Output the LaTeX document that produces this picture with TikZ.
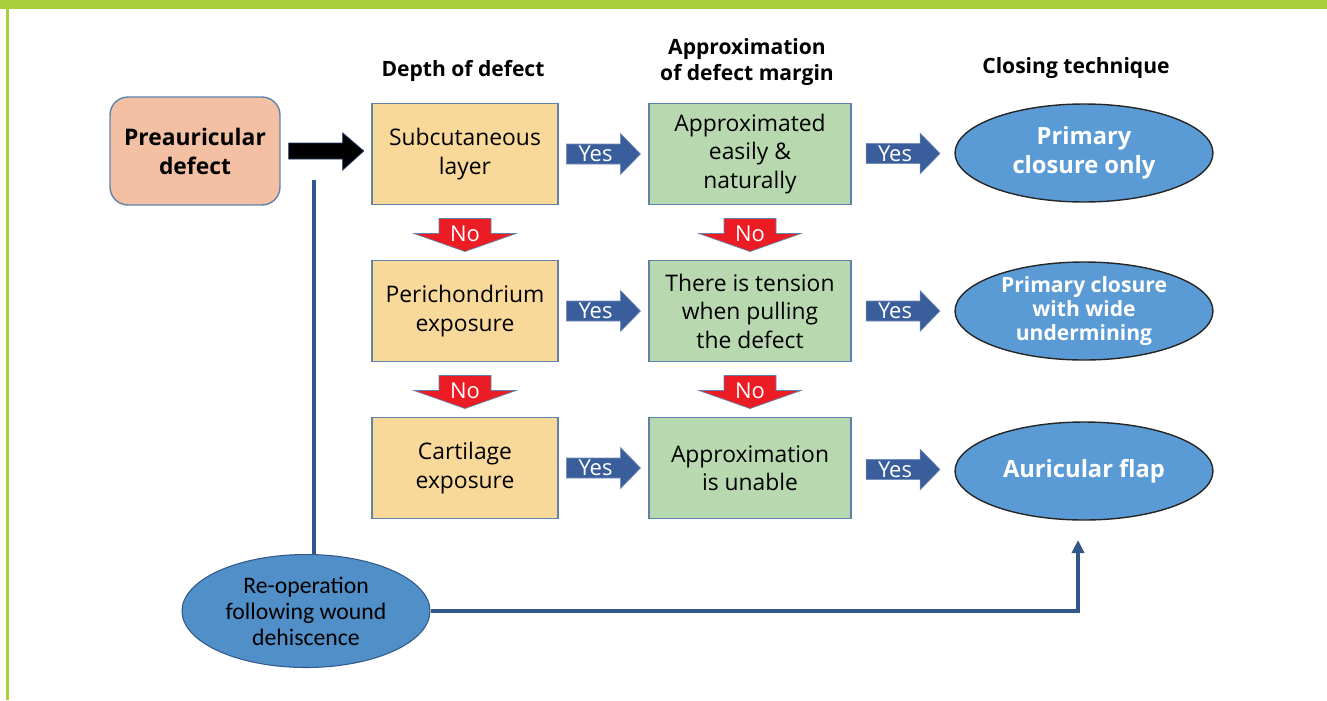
\documentclass[tikz,border=0pt]{standalone}
\usepackage{fontspec}
\setmainfont{Open Sans}
\newfontfamily\reopfont{Carlito}
\usepackage{tikz}
\usetikzlibrary{arrows.meta,calc,positioning,shapes.geometric}
\definecolor{hdrgreen}{RGB}{168,207,60}
\definecolor{depthfill}{RGB}{249,217,153}
\definecolor{marginfill}{RGB}{184,216,176}
\definecolor{defectfill}{RGB}{243,192,164}
\definecolor{boxline}{RGB}{95,130,170}
\definecolor{closefill}{RGB}{91,155,213}
\definecolor{reopfill}{RGB}{80,143,200}
\definecolor{yesblue}{RGB}{58,94,156}
\definecolor{nored}{RGB}{236,28,36}
\definecolor{reopline}{RGB}{50,88,138}

\begin{document}
\begin{tikzpicture}[x=0.02cm,y=-0.02cm,>={Triangle[length=0.26cm,width=0.24cm]},
  depth/.style={draw=boxline,line width=0.8pt,fill=depthfill,minimum width=3.72cm,minimum height=2.02cm,align=center,font=\fontsize{13}{16.2}\selectfont},
  margin/.style={depth,fill=marginfill,minimum width=4.04cm},
  closing/.style={ellipse,draw=black!85,line width=0.8pt,fill=closefill,text=white,minimum width=5.16cm,minimum height=1.96cm,inner sep=0pt,align=center,font=\bfseries\fontsize{13.5}{16.5}\selectfont},
  colhead/.style={align=center,font=\bfseries\fontsize{12}{14.5}\selectfont}]
  \useasboundingbox (0,0) rectangle (1327,700);
  % frame
  \fill[hdrgreen] (0,0) rectangle (1327,9);
  \fill[hdrgreen] (6,0) rectangle (9,700);
  % column heads
  \node[colhead] (hdepth) at (463,71) {Depth of defect};
  \node[colhead] (hmargin) at (747,62) {Approximation\\of defect margin};
  \node[colhead] (hclose) at (1076,68) {Closing technique};
  % boxes
  \node[draw=boxline,line width=0.8pt,fill=defectfill,rounded corners=0.36cm,minimum width=3.4cm,minimum height=2.16cm,align=center,font=\bfseries\fontsize{13}{16.5}\selectfont] (defect) at (195,151) {Preauricular\\defect};
  \node[depth] (d1) at (465,154) {Subcutaneous\\layer};
  \node[depth] (d2) at (465,311) {Perichondrium\\exposure};
  \node[depth] (d3) at (465,468) {Cartilage\\exposure};
  \node[margin] (m1) at (750,154) {Approximated\\easily \&\\naturally};
  \node[margin] (m2) at (750,311) {There is tension\\when pulling\\the defect};
  \node[margin] (m3) at (750,468) {Approximation\\is unable};
  \node[closing] (c1) at (1084,153) {Primary\\closure only};
  \node[closing,font=\bfseries\fontsize{12}{13.5}\selectfont] (c2) at (1084,311) {Primary closure\\with wide\\undermining};
  \node[closing] (c3) at (1084,471) {Auricular flap};
  \node[ellipse,draw=reopline,line width=0.6pt,fill=reopfill,minimum width=4.96cm,minimum height=2.26cm,inner sep=0pt,align=center,font=\reopfont\fontsize{13.5}{14.8}\selectfont] (reop) at (306,611) {Re-operation\\following wound\\dehiscence};
  % black arrow
  \filldraw[fill=black,draw=yesblue!60!black,line width=0.5pt] ($(defect.east)+(8,-8)$) -- ++(54,0) -- ++(0,-10) -- ++(21,18) -- ++(-21,19) -- ++(0,-11) -- ++(-54,0) -- cycle;
  % yes arrows
  \foreach \a/\b in {d1/m1,d2/m2,d3/m3,m1/c1,m2/c2,m3/c3} {
    \coordinate (mid) at ($(\a.east)!0.5!(\b.west)$);
    \filldraw[fill=yesblue,draw=yesblue!70,line width=0.3pt] ($(mid)+(-37,-10)$) -- ++(54,0) -- ++(0,-10.5) -- ++(20,20.5) -- ++(-20,20.5) -- ++(0,-10.5) -- ++(-54,0) -- cycle;
    \node[text=white,inner sep=0pt,font=\fontsize{12.5}{14}\selectfont] (yes\a\b) at ($(mid)+(-8,0)$) {Yes};
  }
  % no arrows
  \foreach \a/\b in {d1/d2,d2/d3,m1/m2,m2/m3} {
    \coordinate (mid) at ($(\a.south)!0.5!(\b.north)$);
    \filldraw[fill=nored,draw=boxline,line width=0.4pt] ($(mid)+(-26,-14)$) -- ++(52,0) -- ++(0,15) -- ++(25,0) -- ++(-51,18) -- ++(-51,-18) -- ++(25,0) -- cycle;
    \node[text=white,inner sep=0pt,font=\fontsize{12.5}{14}\selectfont] (no\a\b) at ($(mid)+(0,1)$) {No};
  }
  % re-operation path
  \coordinate (vtop) at (314,180);
  \coordinate (atip) at (1078,540);
  \draw[reopline,line width=2.2pt] (reop.north -| vtop) -- (vtop);
  \draw[->,reopline,line width=2.2pt] (reop.east) -| (atip);
\end{tikzpicture}
\end{document}
